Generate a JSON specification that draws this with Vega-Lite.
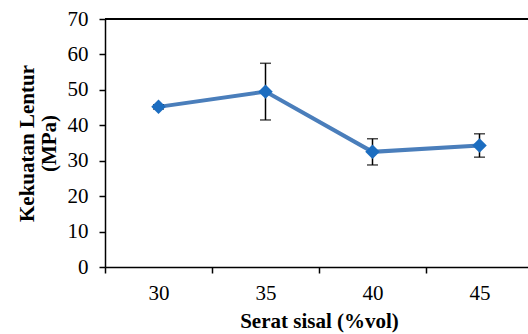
{
  "$schema": "https://vega.github.io/schema/vega-lite/v6.json",
  "width": 423,
  "height": 248,
  "autosize": "none",
  "padding": {"left": 105, "top": 19, "right": 0, "bottom": 67},
  "background": "white",
  "config": {
    "view": {"stroke": null},
    "font": "Liberation Serif",
    "axis": {
      "grid": false,
      "domainColor": "black",
      "domainWidth": 1.5,
      "tickColor": "black",
      "tickWidth": 1.5,
      "tickSize": 6,
      "labelColor": "black",
      "labelFont": "Liberation Serif",
      "labelFontSize": 21,
      "labelOverlap": false,
      "titleFont": "Liberation Serif",
      "titleFontSize": 21,
      "titleFontWeight": "bold",
      "titleColor": "black"
    }
  },
  "data": {
    "values": [
      {"x": "30", "y": 45.2, "lo": 44.6, "hi": 45.8},
      {"x": "35", "y": 49.5, "lo": 41.5, "hi": 57.5},
      {"x": "40", "y": 32.5, "lo": 28.8, "hi": 36.2},
      {"x": "45", "y": 34.3, "lo": 31.0, "hi": 37.6}
    ]
  },
  "encoding": {
    "x": {
      "field": "x",
      "type": "ordinal",
      "sort": null,
      "scale": {"range": [0, 428], "paddingInner": 0, "paddingOuter": 0},
      "axis": {
        "title": "Serat sisal (%vol)",
        "labelAngle": 0,
        "tickBand": "extent",
        "labelPadding": 9,
        "titlePadding": 7
      }
    }
  },
  "layer": [
    {
      "mark": {"type": "line", "color": "#4A7EBB", "strokeWidth": 4},
      "encoding": {
        "y": {
          "field": "y",
          "type": "quantitative",
          "scale": {"domain": [0, 70], "nice": false},
          "axis": {
            "title": ["Kekuatan Lentur", "(MPa)"],
            "values": [0, 10, 20, 30, 40, 50, 60, 70],
            "tickCount": 8,
            "labelPadding": 11,
            "titlePadding": 8,
            "titleLineHeight": 22
          }
        }
      }
    },
    {
      "mark": {"type": "rule", "color": "black", "strokeWidth": 1.5},
      "encoding": {"x": null, "y": {"datum": 70, "type": "quantitative"}}
    },
    {
      "mark": {"type": "rule", "color": "black", "strokeWidth": 1.5},
      "encoding": {
        "y": {"field": "lo", "type": "quantitative"},
        "y2": {"field": "hi"}
      }
    },
    {
      "mark": {"type": "tick", "color": "black", "size": 11, "thickness": 1.5},
      "encoding": {"y": {"field": "lo", "type": "quantitative"}}
    },
    {
      "mark": {"type": "tick", "color": "black", "size": 11, "thickness": 1.5},
      "encoding": {"y": {"field": "hi", "type": "quantitative"}}
    },
    {
      "mark": {"type": "point", "shape": "diamond", "filled": true, "color": "#1C6DC0", "opacity": 1, "size": 210},
      "encoding": {"y": {"field": "y", "type": "quantitative"}}
    }
  ]
}
